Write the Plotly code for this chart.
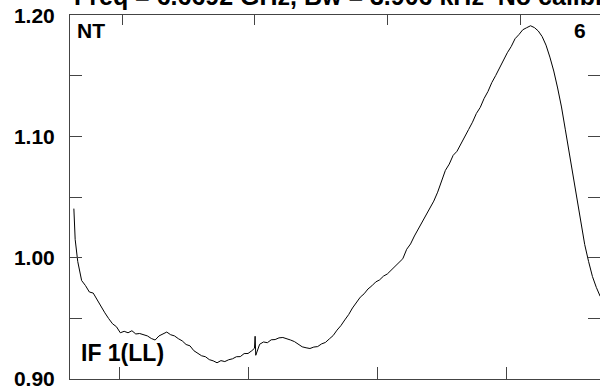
import plotly.graph_objects as go

# Channel numbers (bottom axis) and normalised amplitude
channels = [65, 66, 68, 71, 74, 77, 80, 83, 86, 89, 92, 95, 98, 101, 104, 107, 110, 113,
            116, 119, 122, 125, 128, 131, 134, 137, 140, 143, 146, 149, 152, 155, 158,
            161, 164, 167, 170, 173, 176, 179, 182, 185, 188, 191, 194, 197, 200, 203,
            205, 205.5, 206, 209, 212, 215, 218, 221, 224, 227, 230, 233, 236, 239, 242,
            245, 248, 251, 254, 257, 260, 263, 266, 269, 272, 275, 278, 281, 284, 287,
            290, 293, 296, 299, 302, 305, 308, 311, 314, 317, 320, 323, 326, 329, 332,
            335, 338, 341, 344, 347, 350, 353, 356, 359, 362, 365, 368, 371, 374, 377,
            380, 383, 386, 389, 392, 395, 398, 401, 404, 407, 410, 413, 416, 419, 422,
            425, 428, 431, 434, 437, 440, 443, 446, 449, 452, 455, 458, 461, 464, 467,
            470, 473]
amplitude = [1.0404, 1.0150, 0.9967, 0.9810, 0.9768, 0.9715, 0.9706, 0.9650, 0.9600, 0.9543,
             0.9495, 0.9452, 0.9428, 0.9378, 0.9390, 0.9378, 0.9395, 0.9368, 0.9372, 0.9360,
             0.9352, 0.9331, 0.9318, 0.9352, 0.9370, 0.9384, 0.9362, 0.9352, 0.9329, 0.9311,
             0.9281, 0.9270, 0.9230, 0.9212, 0.9188, 0.9180, 0.9156, 0.9146, 0.9130, 0.9148,
             0.9140, 0.9155, 0.9163, 0.9180, 0.9181, 0.9206, 0.9207, 0.9230, 0.9250,
             0.9349, 0.9192, 0.9283, 0.9302, 0.9296, 0.9320, 0.9322, 0.9336, 0.9339, 0.9330,
             0.9318, 0.9305, 0.9287, 0.9262, 0.9254, 0.9248, 0.9260, 0.9264, 0.9286, 0.9298,
             0.9327, 0.9355, 0.9400, 0.9437, 0.9484, 0.9528, 0.9583, 0.9626, 0.9672, 0.9700,
             0.9740, 0.9766, 0.9798, 0.9815, 0.9846, 0.9864, 0.9897, 0.9922, 0.9955, 0.9990,
             1.0068, 1.0112, 1.0178, 1.0236, 1.0292, 1.0342, 1.0400, 1.0466, 1.0540, 1.0630,
             1.0720, 1.0772, 1.0844, 1.0878, 1.0942, 1.0994, 1.1058, 1.1118, 1.1190, 1.1240,
             1.1314, 1.1372, 1.1446, 1.1504, 1.1570, 1.1628, 1.1692, 1.1743, 1.1808, 1.1842,
             1.1882, 1.1899, 1.1915, 1.1900, 1.1872, 1.1826, 1.1755, 1.1656, 1.1541, 1.1401,
             1.1244, 1.1055, 1.0865, 1.0684, 1.0478, 1.0297, 1.0107, 0.9967, 0.9843, 0.9753,
             0.9679, 0.9637]

y_ticks = [0.90, 0.95, 1.00, 1.05, 1.10, 1.15, 1.20]
y_labels = ["0.90", "", "1.00", "", "1.10", "", "1.20"]
bottom_ticks = [100, 200, 300, 400]
top_ticks = [1, 2, 3, 4]

title_text = "Freq = 6.6692 GHz, Bw = 3.906 kHz  No calibration applied"
corner_left = "NT"
corner_right = "6"
if_label = "IF 1(LL)"

FONT = "Liberation Sans"
AXC = "#444444"
YR = [0.8996, 1.2004]

fig = go.Figure()
fig.add_trace(go.Scatter(x=channels, y=amplitude, mode="lines",
                         line=dict(color="black", width=1), hoverinfo="skip",
                         showlegend=False))
fig.add_trace(go.Scatter(x=[], y=[], xaxis="x2", yaxis="y2", mode="lines",
                         showlegend=False, hoverinfo="skip"))

fig.update_layout(
    width=600, height=389,
    margin=dict(l=70, r=0, t=15, b=10),
    paper_bgcolor="white", plot_bgcolor="white",
    xaxis=dict(range=[62, 472.85], tickvals=bottom_ticks, showticklabels=False,
               ticks="inside", ticklen=12, tickcolor=AXC, tickwidth=1,
               showline=True, linecolor=AXC, linewidth=1, showgrid=False,
               zeroline=False),
    xaxis2=dict(range=[0.608, 4.603], tickvals=top_ticks, showticklabels=False,
                overlaying="x", side="top", ticks="inside", ticklen=10,
                tickcolor=AXC, tickwidth=1, showline=True, linecolor=AXC,
                linewidth=1, showgrid=False, zeroline=False),
    yaxis=dict(range=YR, tickvals=y_ticks, ticktext=y_labels,
               ticks="inside", ticklen=12, tickcolor=AXC, tickwidth=1,
               showline=True, linecolor=AXC, linewidth=1, showgrid=False,
               zeroline=False, ticklabelstandoff=10, ticklabeloverflow="allow",
               tickfont=dict(family=FONT, size=21, color="black", weight="bold")),
    yaxis2=dict(range=YR, tickvals=y_ticks, showticklabels=False,
                overlaying="y", side="right", ticks="inside", ticklen=12,
                tickcolor=AXC, tickwidth=1, showline=False, showgrid=False,
                zeroline=False),
    annotations=[
        dict(text=title_text, xref="paper", yref="paper", x=0.0038, y=1.052,
             xanchor="left", yanchor="middle", showarrow=False,
             font=dict(family=FONT, size=25, color="black", weight="bold")),
        dict(text=corner_left, xref="paper", yref="paper", x=0.009, y=0.958,
             xanchor="left", yanchor="middle", showarrow=False,
             font=dict(family=FONT, size=21, color="black", weight="bold")),
        dict(text=corner_right, xref="paper", yref="paper", x=0.977, y=0.958,
             xanchor="right", yanchor="middle", showarrow=False,
             font=dict(family=FONT, size=21, color="black", weight="bold")),
        dict(text=if_label, xref="paper", yref="paper", x=0.017, y=0.071,
             xanchor="left", yanchor="middle", showarrow=False,
             font=dict(family=FONT, size=23, color="black", weight="bold")),
    ],
)

fig.write_html(
    "out.html",
    config={"displayModeBar": False},
    post_script="document.body.style.margin='0';document.body.style.overflow='hidden';",
)
